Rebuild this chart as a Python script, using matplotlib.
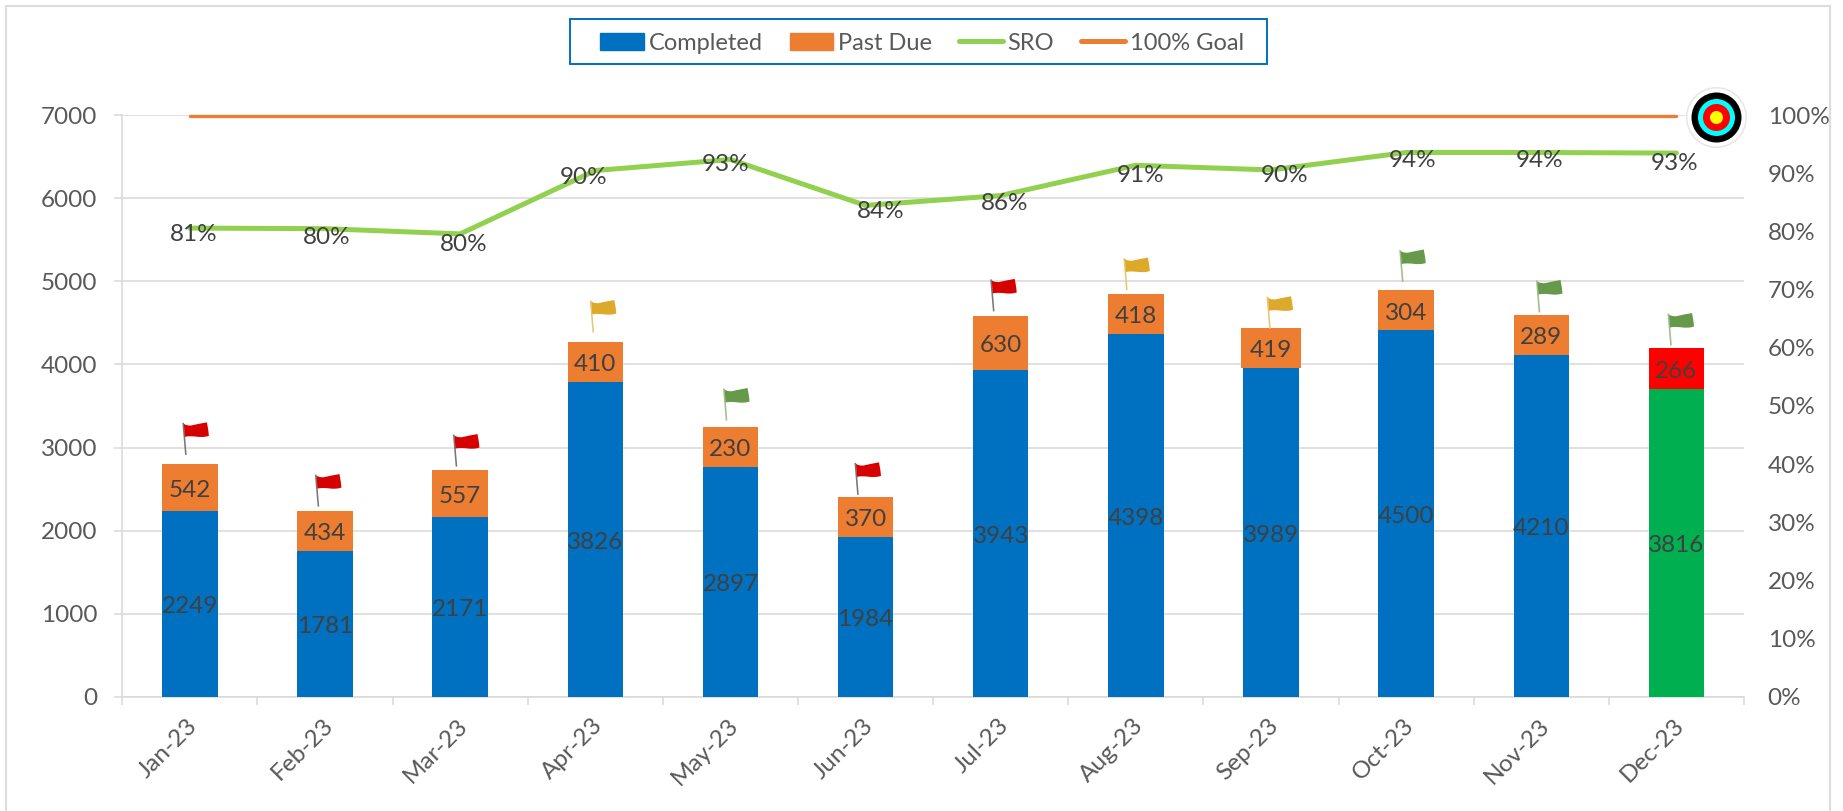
import matplotlib
matplotlib.use("Agg")
import matplotlib.pyplot as plt
from matplotlib.lines import Line2D
from matplotlib.patches import Patch, PathPatch, Rectangle
from matplotlib.path import Path
from matplotlib.transforms import IdentityTransform, ScaledTranslation

#____________________________________________________________________________________________________
# data
months = ['Jan-23', 'Feb-23', 'Mar-23', 'Apr-23', 'May-23', 'Jun-23',
          'Jul-23', 'Aug-23', 'Sep-23', 'Oct-23', 'Nov-23', 'Dec-23']

# the drawn bars do not follow the printed numbers exactly, so heights and labels are kept apart
completed_height = [2237, 1755, 2163, 3792, 2767, 1924, 3936, 4370, 3960, 4410, 4113, 3707]
stack_top = [2800, 2237, 2735, 4273, 3253, 2406, 4583, 4852, 4442, 4900, 4599, 4193]
completed_label = ['2249', '1781', '2171', '3826', '2897', '1984', '3943', '4398', '3989', '4500', '4210', '3816']
past_due_label = ['542', '434', '557', '410', '230', '370', '630', '418', '419', '304', '289', '266']

sro = [0.806, 0.805, 0.796, 0.905, 0.924, 0.845, 0.862, 0.914, 0.906, 0.936, 0.936, 0.935]
sro_label = ['81%', '80%', '80%', '90%', '93%', '84%', '86%', '91%', '90%', '94%', '94%', '93%']
goal = [0.998] * 12

flag_status = ['red', 'red', 'red', 'gold', 'green', 'red', 'red', 'gold', 'gold', 'green', 'green', 'green']
flag_base = [2912, 2289, 2771, 4385, 3325, 2430, 4639, 4896, 4430, 4993, 4626, 4228]

left_ticks = [0, 1000, 2000, 3000, 4000, 5000, 6000, 7000]
right_ticks = [0, 0.1, 0.2, 0.3, 0.4, 0.5, 0.6, 0.7, 0.8, 0.9, 1.0]
right_tick_labels = ['0%', '10%', '20%', '30%', '40%', '50%', '60%', '70%', '80%', '90%', '100%']

#____________________________________________________________________________________________________
# layout and styles
W, H = 1843, 811
LEFT, RIGHT, TOP, BOTTOM = 122.3, 1744, 115.3, 696.7
BLUE, ORANGE, LIME = '#0070C0', '#ED7D31', '#92D050'
GRID = '#D9D9D9'
TICK_TEXT = '#595959'
LABEL_TEXT = '#404040'
FS = 17.5

completed_colors = [BLUE] * 11 + ['#00B050']
past_due_colors = [ORANGE] * 11 + ['#FF0000']
past_due_width = [0.41] * 8 + [0.45] + [0.41] * 3

# hand placed label nudges in the reference, pixels
sro_dx = [3.9, 1.8, 3.7, -11.4, -4.5, 15, 4.3, 4.2, 13.1, 6.6, -1.8, -1.9]
sro_dy = [-6, -8.5, -10.5, -7, -5.5, -6.5, -8, -10.5, -6, -7.5, -8, -10]
flag_dx = [-4, -6.6, -3.7, -2, -3.9, -7.6, -7, -9, -1, -3.4, -1.8, -5.4]

flag_colors = {'red': '#D60000', 'gold': '#DDA92B', 'green': '#67994A'}
pole_colors = {'red': '#777777', 'gold': '#E8C770', 'green': '#9DBF8A'}

target_x = 11.29
target_y = 0.9975
target_diameters = [61, 58, 50, 37, 27, 13]
target_colors = ['#E6E6E6', 'white', 'black', '#00FFFF', '#FF0000', '#FFFF00']


def px_size(d):
    # marker area in points^2 for a diameter in pixels at dpi 100
    return (d * 0.72) ** 2


def flag_paths():
    # drawn in pixels around the pole foot
    pole = Path([(-0.8, 0), (0.8, 0), (-1.9, 32), (-3.5, 32), (-0.8, 0)])
    cloth = Path(
        [(-2, 31), (4, 27), (10, 31), (21, 32.5),
         (22, 27), (22.5, 24), (23, 19),
         (14, 16), (8, 20), (-1, 18), (-2, 31)],
        [Path.MOVETO, Path.CURVE4, Path.CURVE4, Path.CURVE4,
         Path.LINETO, Path.LINETO, Path.LINETO,
         Path.CURVE4, Path.CURVE4, Path.CURVE4, Path.LINETO])
    return pole, cloth


def draw_flags(ax):
    pole, cloth = flag_paths()
    for i in range(len(months)):
        offset = ScaledTranslation(i, flag_base[i], ax.transData)
        shift = IdentityTransform() + ScaledTranslation(flag_dx[i], 0, IdentityTransform()) + offset
        ax.add_patch(PathPatch(pole, transform=shift, fc=pole_colors[flag_status[i]], ec='none', zorder=4))
        ax.add_patch(PathPatch(cloth, transform=shift, fc=flag_colors[flag_status[i]], ec='none', zorder=4))


def bar_label(ax, x, y, text):
    ax.annotate(text, xy=(x, y), xytext=(0, -3), textcoords='offset pixels', ha='center', va='center',
                fontsize=FS, color=LABEL_TEXT, zorder=5)


def main():
    plt.rcParams['font.family'] = ['Lato', 'DejaVu Sans']
    fig = plt.figure(figsize=(W / 100, H / 100), dpi=100, facecolor='white')
    ax = fig.add_axes([LEFT / W, 1 - BOTTOM / H, (RIGHT - LEFT) / W, (BOTTOM - TOP) / H])
    ax2 = ax.twinx()
    x = list(range(len(months)))

    # bars
    past_due_height = [t - c for t, c in zip(stack_top, completed_height)]
    ax.bar(x, completed_height, width=0.41, color=completed_colors, zorder=3)
    ax.bar(x, past_due_height, width=past_due_width, bottom=completed_height, color=past_due_colors, zorder=3)
    for i in x:
        bar_label(ax, i, completed_height[i] / 2, completed_label[i])
        bar_label(ax, i, (completed_height[i] + stack_top[i]) / 2, past_due_label[i])
    draw_flags(ax)

    # left axis and category axis
    ax.set_xlim(-0.5, 11.5)
    ax.set_ylim(0, 7000)
    ax.set_yticks(left_ticks)
    ax.set_axisbelow(True)
    ax.grid(axis='y', color=GRID, linewidth=1.1)
    ax.set_xticks([i - 0.5 for i in range(13)])
    ax.set_xticklabels([])
    ax.set_xticks(x, minor=True)
    ax.set_xticklabels(months, minor=True, rotation=45, ha='right', va='top', rotation_mode='anchor',
                       fontsize=FS, color=TICK_TEXT)
    ax.tick_params(axis='x', which='major', length=5.8, width=1.1, color=GRID)
    ax.tick_params(axis='x', which='minor', length=0, pad=13)
    ax.tick_params(axis='y', length=5.8, width=1.1, color=GRID, pad=12, labelsize=FS, labelcolor=TICK_TEXT)
    nudge = ScaledTranslation(-3, 0, IdentityTransform())
    for lab in ax.get_xticklabels(minor=True):
        lab.set_transform(lab.get_transform() + nudge)
    for side in ['top', 'right']:
        ax.spines[side].set_visible(False)
    for side in ['left', 'bottom']:
        ax.spines[side].set_color(GRID)
        ax.spines[side].set_linewidth(1.1)

    # right axis: the two lines
    ax2.set_ylim(0, 1)
    ax2.set_yticks(right_ticks)
    ax2.set_yticklabels(right_tick_labels)
    ax2.tick_params(axis='y', length=0, pad=17, labelsize=FS, labelcolor=TICK_TEXT)
    for side in ['top', 'right', 'left', 'bottom']:
        ax2.spines[side].set_visible(False)
    ax2.plot(x, goal, color=ORANGE, linewidth=2.4, solid_capstyle='round', zorder=3, clip_on=False)
    ax2.plot(x, sro, color=LIME, linewidth=3.6, solid_capstyle='round', zorder=3)
    for i in x:
        ax2.annotate(sro_label[i], xy=(i, sro[i]), xytext=(sro_dx[i], sro_dy[i]), textcoords='offset pixels',
                     ha='center', va='center', fontsize=FS, color=LABEL_TEXT, zorder=5)

    # target icon at the end of the goal line
    for d, c in zip(target_diameters, target_colors):
        ax2.scatter([target_x], [target_y], s=px_size(d), c=c, linewidths=0, clip_on=False, zorder=6)

    # legend box and outer border
    handles = [Patch(color=BLUE, label='Completed'), Patch(color=ORANGE, label='Past Due'),
               Line2D([], [], color=LIME, linewidth=3.6, solid_capstyle='round', label='SRO'),
               Line2D([], [], color=ORANGE, linewidth=3.6, solid_capstyle='round', label='100% Goal')]
    fig.legend(handles=handles, loc='center', bbox_to_anchor=(922 / W, 1 - 43 / H), ncol=4, frameon=False,
               fontsize=17, labelcolor=TICK_TEXT, handlelength=1.85, handleheight=0.7, handletextpad=0.2,
               columnspacing=1.15, borderpad=0, borderaxespad=0)
    fig.add_artist(Rectangle((570 / W, 1 - 64 / H), 697 / W, 45 / H, transform=fig.transFigure,
                             fill=False, edgecolor=BLUE, linewidth=1.4))
    for xs, ys in [((6, 6), (6, H)), ((6, 1830), (6, 6)), ((1830, 1830), (6, H))]:
        fig.add_artist(Line2D([a / W for a in xs], [1 - b / H for b in ys], color='#DDDDDD', linewidth=1.5,
                              transform=fig.transFigure))

    fig.savefig('out.png', dpi=100, facecolor='white')


#____________________________________________________________________________________________________
# main
if __name__ == "__main__":
    main()
